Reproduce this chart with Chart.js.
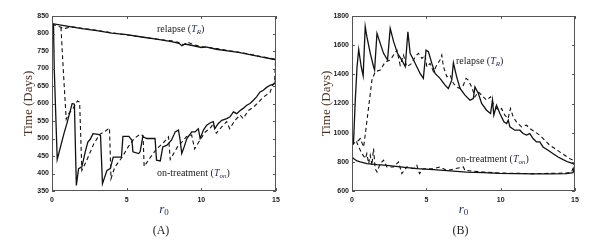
<!DOCTYPE html>
<html><head><meta charset="utf-8">
<script src="https://cdn.jsdelivr.net/npm/chart.js@4"></script>
<style>
html,body{margin:0;padding:0;background:#fff;}
#wrap{position:relative;width:602px;height:247px;}
canvas{position:absolute;top:0;}
</style></head>
<body><div id="wrap">
<canvas id="cA" width="300" height="247" style="left:0"></canvas>
<canvas id="cB" width="302" height="247" style="left:300px"></canvas>
</div>
<script>
// ---------- DATA (r0, days) ----------
const xTicks = [0, 5, 10, 15];
const yTicksA = [350, 400, 450, 500, 550, 600, 650, 700, 750, 800, 850];
const yTicksB = [600, 800, 1000, 1200, 1400, 1600, 1800];

const A_relapse_solid = [[0,828],[1,821],[2,814],[3,808],[4,801],[5,797],[6,790],[7,784],[8,777],[8.5,772],[8.7,765],[8.9,770],[9.5,765],[10,760],[10.3,762],[11,755],[12,749],[12.5,746],[13,742],[14,733],[15,725]];
const A_relapse_dash = [[0,826],[0.3,822],[0.6,818],[0.75,813],[1.0,816],[1.3,819],[2,815],[3,809],[4,802],[5,796],[6,790],[7,784],[8,779],[8.5,774],[8.8,768],[9.1,775],[9.5,768],[10,762],[10.5,760],[11,757],[12,750],[13,743],[14,734],[15,726]];
const A_ontreat_solid = [[0.1,828],[0.15,700],[0.35,440],[0.8,514],[1.0,543],[1.35,600],[1.5,598],[1.63,366],[1.78,414],[2.0,419],[2.25,466],[2.4,490],[2.55,497],[2.75,514],[3.1,512],[3.25,509],[3.38,371],[3.68,409],[3.9,414],[4.1,447],[4.65,447],[4.75,506],[5.15,506],[5.35,495],[5.42,462],[5.8,457],[5.9,462],[6.08,505],[6.35,500],[6.9,500],[7.0,438],[7.25,436],[7.42,476],[7.7,481],[8.0,495],[8.25,519],[8.47,524],[8.58,495],[8.69,457],[8.85,476],[9.03,500],[9.36,519],[9.58,519],[9.8,528],[9.92,500],[10.14,524],[10.36,538],[10.6,545],[10.8,548],[10.9,528],[11.14,543],[11.37,552],[11.7,557],[11.92,562],[12.15,576],[12.37,571],[12.6,580],[12.8,586],[13.04,595],[13.26,600],[13.5,610],[13.7,619],[13.93,633],[14.15,638],[14.37,646],[14.6,652],[14.93,657],[15,681]];
const A_ontreat_dash = [[0.6,818],[0.75,700],[0.95,555],[1.1,570],[1.4,585],[1.7,607],[1.85,604],[2.0,409],[2.3,435],[2.8,485],[3.2,512],[3.6,522],[3.85,530],[3.95,385],[4.2,418],[4.7,447],[5.1,476],[5.5,500],[5.9,512],[6.1,508],[6.17,420],[6.6,447],[7.0,470],[7.5,490],[7.8,505],[7.92,440],[8.4,476],[8.7,490],[9.0,505],[9.35,510],[9.55,470],[9.9,495],[10.25,518],[10.6,530],[10.8,542],[11.0,515],[11.4,535],[11.7,548],[11.9,528],[12.25,552],[12.6,567],[12.8,557],[13.15,580],[13.5,590],[13.7,598],[14.15,618],[14.6,632],[14.75,650],[14.9,660],[14.97,724]];

const B_relapse_solid = [[0,838],[0.02,915],[0.1,925],[0.22,1223],[0.34,1452],[0.45,1571],[0.62,1452],[0.75,1390],[0.89,1727],[1.0,1658],[1.23,1544],[1.45,1452],[1.52,1430],[1.68,1681],[1.9,1612],[2.12,1544],[2.39,1498],[2.57,1715],[2.8,1624],[3.06,1544],[3.35,1498],[3.58,1452],[3.76,1692],[3.91,1544],[4.14,1498],[4.36,1452],[4.58,1406],[4.8,1372],[4.98,1566],[5.14,1555],[5.37,1475],[5.59,1406],[5.92,1372],[6.26,1326],[6.48,1303],[6.71,1360],[6.82,1479],[7.04,1383],[7.27,1303],[7.6,1257],[7.94,1223],[8.16,1234],[8.27,1314],[8.5,1269],[8.72,1200],[9.05,1154],[9.32,1131],[9.45,1223],[9.54,1120],[9.72,1188],[9.95,1131],[10.22,1074],[10.4,1063],[10.51,1086],[10.62,1040],[10.95,1017],[11.29,1017],[11.51,994],[11.74,983],[11.96,994],[12.18,960],[12.41,937],[12.63,937],[12.85,902],[13.19,879],[13.53,856],[13.86,833],[14.2,815],[14.53,799],[14.87,788],[15,776]];
const B_relapse_dash = [[0,915],[0.1,925],[0.45,948],[0.56,960],[0.78,902],[0.9,994],[1.12,1177],[1.34,1360],[1.56,1418],[1.9,1429],[2.24,1486],[2.57,1498],[3.02,1566],[3.24,1463],[3.46,1532],[3.69,1452],[4.02,1475],[4.25,1521],[4.47,1544],[4.7,1509],[4.92,1532],[5.03,1452],[5.25,1475],[5.48,1418],[5.7,1463],[5.92,1498],[6.04,1532],[6.15,1452],[6.38,1383],[6.6,1395],[6.82,1337],[7.04,1314],[7.27,1303],[7.49,1326],[7.67,1372],[7.82,1360],[8.05,1314],[8.27,1246],[8.5,1280],[8.72,1257],[9.05,1223],[9.32,1246],[9.5,1200],[9.72,1166],[9.95,1154],[10.06,1166],[10.28,1120],[10.5,1097],[10.66,1166],[10.84,1109],[11.06,1074],[11.4,1040],[11.74,1051],[11.96,1028],[12.3,1006],[12.63,983],[12.97,948],[13.3,914],[13.64,891],[13.97,868],[14.31,845],[14.65,822],[14.87,811],[15,788]];
const B_ontreat_solid = [[0,838],[0.1,822],[0.34,806],[0.56,799],[1.0,788],[1.68,781],[2.35,776],[3.24,765],[4.36,753],[5.48,747],[6.6,738],[7.7,730],[8.83,726],[9.95,721],[11.06,719],[12.18,717],[13.3,717],[14.42,719],[14.87,726],[15,788]];
const B_ontreat_dash = [[0.3,940],[0.45,902],[0.67,856],[0.9,822],[1.0,856],[1.12,788],[1.23,845],[1.34,776],[1.45,891],[1.56,753],[1.68,730],[1.9,788],[2.12,811],[2.35,765],[2.8,765],[3.13,799],[3.35,719],[3.69,765],[4.14,753],[4.36,776],[4.54,719],[4.8,753],[5.48,753],[5.92,765],[6.38,741],[7.49,765],[7.6,741],[8.83,730],[9.95,723],[12.18,719],[14.42,723],[14.76,730],[15,788]];

// ---------- helpers ----------
const pts = arr => arr.map(p => ({x: p[0], y: p[1]}));
const TXT = '#222';
const MATH = '#1f2a5c';

function rich(ctx, x, y, parts, align) {
  let w = 0;
  parts.forEach(p => { ctx.font = p[1]; w += ctx.measureText(p[0]).width; });
  let cx = align === 'center' ? x - w / 2 : x;
  ctx.textBaseline = 'alphabetic';
  ctx.textAlign = 'left';
  parts.forEach(p => {
    ctx.font = p[1]; ctx.fillStyle = p[3] || TXT;
    ctx.fillText(p[0], cx, y + (p[2] || 0));
    cx += ctx.measureText(p[0]).width;
  });
}

function makePanel(id, series, yTickVals, padRight, labels) {
  const decor = {
    id: 'decor',
    afterDraw(chart) {
      const {ctx, chartArea: a, scales: {x, y}} = chart;
      ctx.save();
      ctx.strokeStyle = '#555'; ctx.lineWidth = 1;
      ctx.strokeRect(a.left + 0.5, a.top + 0.5, a.right - a.left - 1, a.bottom - a.top - 1);
      ctx.beginPath();
      x.ticks.forEach(t => {
        const px = Math.round(x.getPixelForValue(t.value)) + 0.5;
        ctx.moveTo(px, a.bottom); ctx.lineTo(px, a.bottom - 3);
        ctx.moveTo(px, a.top); ctx.lineTo(px, a.top + 3);
      });
      y.ticks.forEach(t => {
        const py = Math.round(y.getPixelForValue(t.value)) + 0.5;
        ctx.moveTo(a.left, py); ctx.lineTo(a.left + 3, py);
        ctx.moveTo(a.right, py); ctx.lineTo(a.right - 3, py);
      });
      ctx.stroke();
      ctx.save();
      ctx.translate(labels.yTitleX, (a.top + a.bottom) / 2);
      ctx.rotate(-Math.PI / 2);
      ctx.font = '13px "Liberation Serif"';
      ctx.fillStyle = '#4a3222';
      ctx.textAlign = 'center'; ctx.textBaseline = 'middle';
      ctx.fillText('Time (Days)', 0, 0);
      ctx.restore();
      const cx = (a.left + a.right) / 2;
      rich(ctx, cx, 213, [['r', 'italic 13px "Liberation Serif"', 0, MATH], ['0', '9px "Liberation Serif"', 2, MATH]], 'center');
      ctx.font = '12px "Liberation Serif"'; ctx.fillStyle = TXT;
      ctx.textAlign = 'center'; ctx.textBaseline = 'middle';
      ctx.fillText(labels.panel, cx - 3, 231);
      const f = '10px "Liberation Serif"', fi = 'italic 10px "Liberation Serif"', fs = 'italic 7px "Liberation Serif"';
      rich(ctx, labels.rel[0], labels.rel[1], [['relapse (', f], ['T', fi, 0, MATH], ['R', fs, 2, MATH], [')', f]]);
      rich(ctx, labels.on[0], labels.on[1], [['on-treatment (', f], ['T', fi, 0, MATH], ['on', fs, 2, MATH], [')', f]]);
      ctx.restore();
    }
  };
  const mk = (arr, dash) => ({
    data: pts(arr), borderColor: '#111', borderWidth: dash ? 1.1 : 1.3,
    borderDash: dash ? [4, 3] : [], pointRadius: 0, tension: 0, fill: false
  });
  const tickFont = { family: 'Liberation Sans', size: 7, weight: 'bold' };
  return new Chart(document.getElementById(id), {
    type: 'line',
    data: { datasets: series.map(s => mk(s[0], s[1])) },
    options: {
      responsive: false, animation: false, devicePixelRatio: 1,
      layout: { padding: { top: 16, right: padRight, left: 0, bottom: 0 } },
      plugins: { legend: { display: false }, tooltip: { enabled: false } },
      scales: {
        x: {
          type: 'linear', min: 0, max: 15,
          afterBuildTicks: s => { s.ticks = xTicks.map(v => ({value: v})); },
          ticks: { font: tickFont, color: '#222', padding: 5, maxRotation: 0, callback: v => String(v) },
          grid: { display: false, drawTicks: false }, border: { display: false },
          afterFit: s => { s.height = 56; }
        },
        y: {
          type: 'linear', min: yTickVals[0], max: yTickVals[yTickVals.length - 1],
          afterBuildTicks: s => { s.ticks = yTickVals.map(v => ({value: v})); },
          ticks: { font: tickFont, color: '#222', padding: 3, callback: v => String(v) },
          grid: { display: false, drawTicks: false }, border: { display: false },
          afterFit: s => { s.width = 52; }
        }
      }
    },
    plugins: [decor]
  });
}

makePanel('cA', [[A_relapse_solid, false], [A_relapse_dash, true], [A_ontreat_solid, false], [A_ontreat_dash, true]],
  yTicksA, 24, { yTitleX: 29, panel: '(A)', rel: [157, 32], on: [157, 176] });
makePanel('cB', [[B_relapse_solid, false], [B_relapse_dash, true], [B_ontreat_solid, false], [B_ontreat_dash, true]],
  yTicksB, 27, { yTitleX: 27, panel: '(B)', rel: [156, 64], on: [156, 162] });
</script>
</body></html>
